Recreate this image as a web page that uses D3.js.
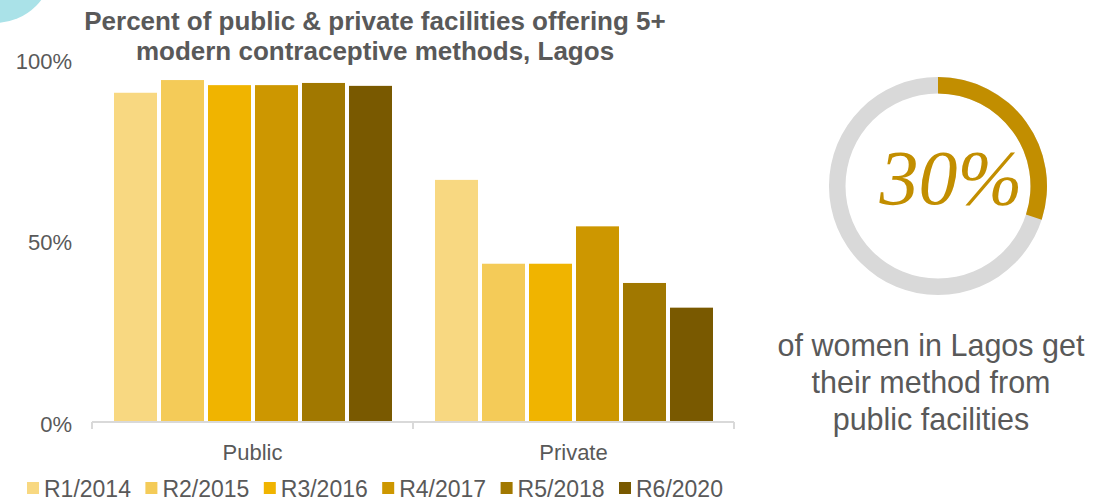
<!DOCTYPE html>
<html>
<head>
<meta charset="utf-8">
<script src="https://cdn.jsdelivr.net/npm/d3@7"></script>
<style>
  body { margin: 0; background: #fff; }
  svg { display: block; font-family: "Liberation Sans", Arial, sans-serif; }
</style>
</head>
<body>
<svg id="chart" width="1097" height="502"></svg>
<script>
// data
const categories = ['Public', 'Private']
const rounds = ['R1/2014', 'R2/2015', 'R3/2016', 'R4/2017', 'R5/2018', 'R6/2020']
const colors = ['#F8D881', '#F4CB58', '#F0B400', '#CD9700', '#A17800', '#795900']
const publicValues = [0.907, 0.942, 0.928, 0.928, 0.934, 0.926]
const privateValues = [0.667, 0.436, 0.436, 0.539, 0.383, 0.315]
const yTicks = [0, 0.5, 1]
const donutShare = 0.30
const titleLines = ['Percent of public & private facilities offering 5+', 'modern contraceptive methods, Lagos']
const noteLines = ['of women in Lagos get', 'their method from', 'public facilities']

const textGray = '#595959'

let svg = d3.select('#chart')

// decorative circle peeking in top-left
svg.append('circle')
  .attr('cx', -5).attr('cy', -35).attr('r', 58)
  .attr('fill', '#AAE2E8')

let rows = []
categories.forEach((c, ci) => {
  let vals = ci == 0 ? publicValues : privateValues
  rounds.forEach((r, ri) => rows.push({cat: c, round: r, value: vals[ri], color: colors[ri]}))
})

let x0 = d3.scaleBand()
  .domain(categories)
  .range([92, 734])
  .padding(0)

let x1 = d3.scaleBand()
  .domain(rounds)
  .range([22, 300])
  .paddingInner(0.085)
  .paddingOuter(0)

let y = d3.scaleLinear()
  .domain([0, 1])
  .range([422, 59])

// bars
svg.append('g')
  .selectAll('rect')
  .data(rows)
  .join('rect')
    .attr('x', d => x0(d.cat) + x1(d.round))
    .attr('y', d => y(d.value))
    .attr('width', x1.bandwidth())
    .attr('height', d => y(0) - y(d.value))
    .attr('fill', d => d.color)

// x axis
let xAxis = svg.append('g').attr('transform', `translate(0,${y(0)})`)
xAxis.append('line')
  .attr('x1', x0.range()[0]).attr('x2', x0.range()[1])
  .attr('stroke', '#D9D9D9').attr('stroke-width', 2)
let tickXs = categories.map(c => x0(c)).concat([x0.range()[1]])
xAxis.selectAll('.tick')
  .data(tickXs)
  .join('line')
    .attr('x1', d => d).attr('x2', d => d)
    .attr('y1', 0).attr('y2', 7)
    .attr('stroke', '#D9D9D9').attr('stroke-width', 2)
xAxis.selectAll('text')
  .data(categories)
  .join('text')
    .attr('x', d => x0(d) + x0.bandwidth() / 2)
    .attr('y', 30)
    .attr('text-anchor', 'middle')
    .attr('dominant-baseline', 'central')
    .attr('fill', textGray)
    .style('font-size', '22px')
    .text(d => d)

// y axis labels (no line)
svg.append('g')
  .selectAll('text')
  .data(yTicks)
  .join('text')
    .attr('x', 72)
    .attr('y', d => y(d) + 2)
    .attr('text-anchor', 'end')
    .attr('dominant-baseline', 'central')
    .attr('fill', textGray)
    .style('font-size', '22px')
    .text(d => d3.format('.0%')(d))

// title
svg.append('g')
  .selectAll('text')
  .data(titleLines)
  .join('text')
    .attr('x', 375)
    .attr('y', (d, i) => 30 + i * 30)
    .attr('text-anchor', 'middle')
    .attr('fill', textGray)
    .style('font-size', '26px')
    .style('font-weight', 'bold')
    .text(d => d)

// legend
let legend = svg.append('g')
  .selectAll('g')
  .data(rounds)
  .join('g')
    .attr('transform', (d, i) => `translate(${27 + i * 118.4},488)`)
legend.append('rect')
  .attr('x', 0).attr('y', -6)
  .attr('width', 12).attr('height', 12)
  .attr('fill', (d, i) => colors[i])
legend.append('text')
  .attr('x', 17)
  .attr('y', 1)
  .attr('dominant-baseline', 'central')
  .attr('fill', textGray)
  .style('font-size', '23px')
  .text(d => d)

// donut
let donut = svg.append('g').attr('transform', 'translate(938,186)')
let arc = d3.arc().innerRadius(92.5).outerRadius(109)
donut.append('path')
  .attr('d', arc({startAngle: 0, endAngle: 2 * Math.PI}))
  .attr('fill', '#D9D9D9')
donut.append('path')
  .attr('d', arc({startAngle: 0, endAngle: donutShare * 2 * Math.PI}))
  .attr('fill', '#C28E00')
donut.append('text')
  .attr('x', 13)
  .attr('y', 18)
  .attr('text-anchor', 'middle')
  .attr('fill', '#C28E00')
  .style('font-family', '"Liberation Serif", "DejaVu Serif", serif')
  .style('font-style', 'italic')
  .style('font-size', '78px')
  .text(d3.format('.0%')(donutShare))

// note under donut
svg.append('g')
  .selectAll('text')
  .data(noteLines)
  .join('text')
    .attr('x', 931)
    .attr('y', (d, i) => 356 + i * 37)
    .attr('text-anchor', 'middle')
    .attr('fill', textGray)
    .style('font-size', '30.5px')
    .text(d => d)
</script>
</body>
</html>
